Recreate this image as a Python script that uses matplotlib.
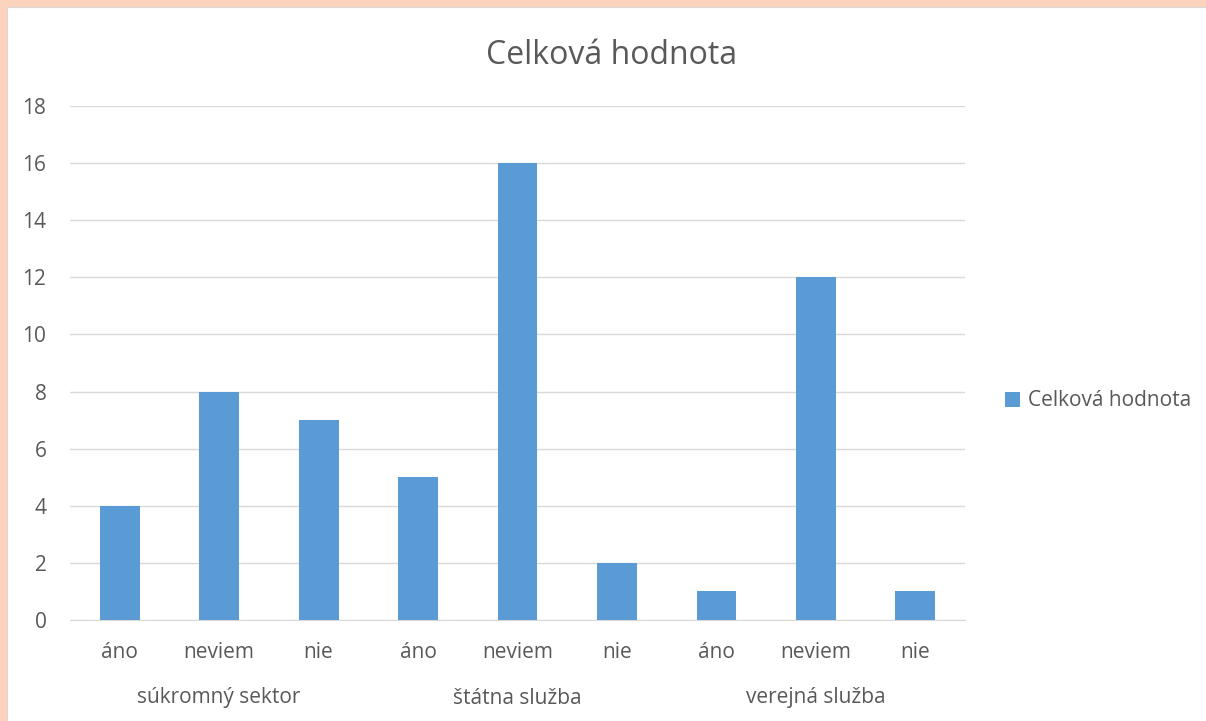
import matplotlib.pyplot as plt
from matplotlib.patches import Rectangle

groups = ["súkromný sektor", "štátna služba", "verejná služba"]
answers = ["áno", "neviem", "nie"]
values = [4, 8, 7, 5, 16, 2, 1, 12, 1]
series_name = "Celková hodnota"

plt.rcParams['font.family'] = ['Open Sans', 'DejaVu Sans']
txt = '#595959'
fs = 15

fig = plt.figure(figsize=(12.06, 7.21), dpi=100)
fig.patch.set_facecolor('#FCD3BC')
fig.patches.append(Rectangle((7/1206, 0), 1, 1 - 7/721, transform=fig.transFigure,
                             facecolor='white', edgecolor='#D9D9D9', lw=0.8, zorder=-5))

ax = fig.add_axes([70/1206, 1 - 620/721, 895/1206, 514/721])
ax.set_facecolor('none')
x = list(range(len(values)))
ax.bar(x, values, width=0.4, color='#5B9BD5', label=series_name, zorder=3)
ax.set_xlim(-0.5, len(values) - 0.5)
ax.set_ylim(0, 18)
ax.set_yticks(range(0, 19, 2))
ax.yaxis.grid(True, color='#D9D9D9', lw=1)
ax.set_axisbelow(True)
for s in ['top', 'right', 'left']:
    ax.spines[s].set_visible(False)
ax.spines['bottom'].set_color('#D9D9D9')
ax.tick_params(axis='y', length=0, labelsize=fs, labelcolor=txt, pad=17)
ax.tick_params(axis='x', length=0, labelsize=fs, labelcolor=txt, pad=16)
ax.set_xticks(x)
ax.set_xticklabels(answers * len(groups))

for i, g in enumerate(groups):
    ax.text(i * 3 + 1, -78/514, g, transform=ax.get_xaxis_transform(),
            ha='center', va='center', fontsize=fs, color=txt)

fig.text(612/1206, 1 - 55/721, series_name, ha='center', va='center', fontsize=23, color=txt)
fig.legend(loc='center left', bbox_to_anchor=(1005/1206, 1 - 401/721), frameon=False,
           fontsize=fs, labelcolor=txt, handlelength=0.7, handleheight=0.7,
           handletextpad=0.4, borderpad=0, borderaxespad=0)

fig.savefig('out.png', dpi=100, facecolor=fig.get_facecolor())
